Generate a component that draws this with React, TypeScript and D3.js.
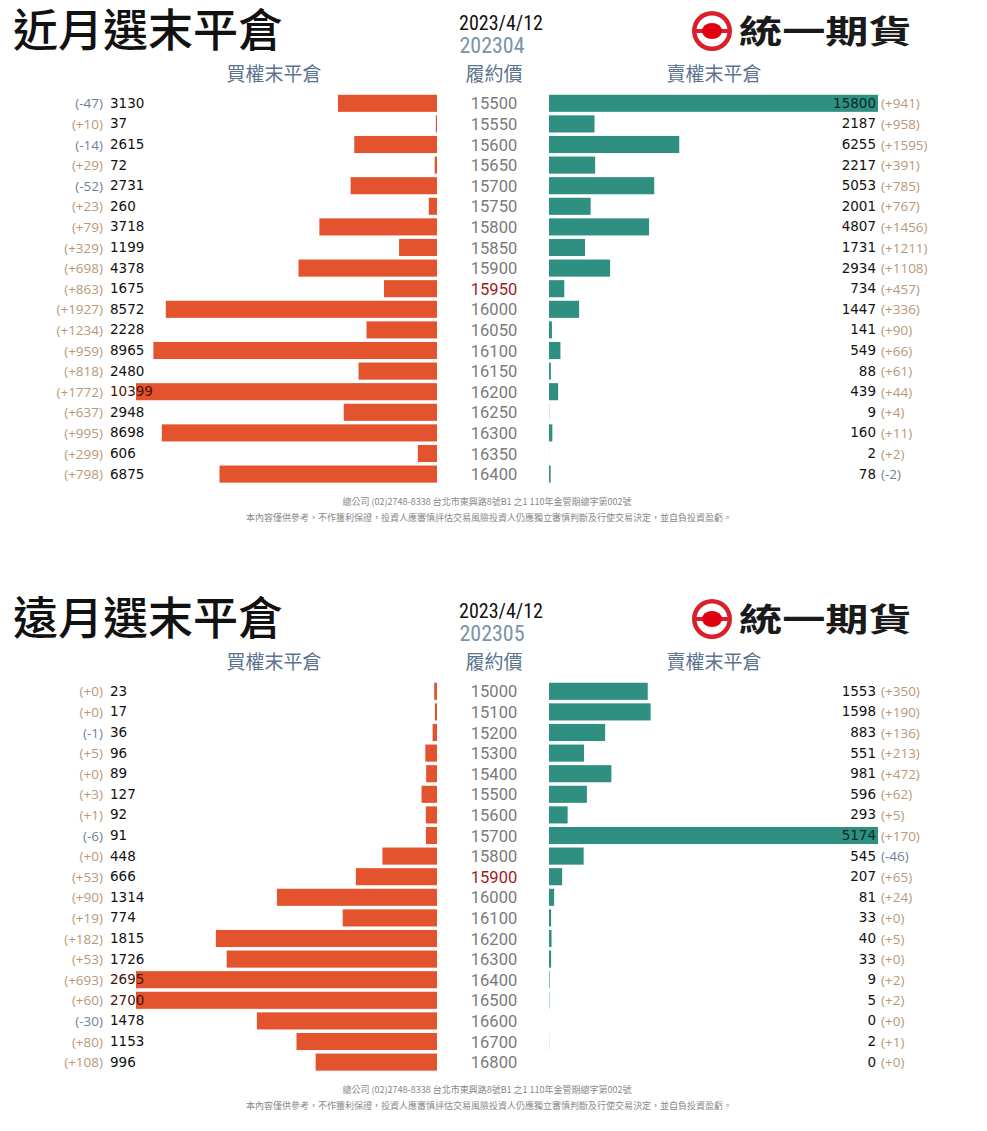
import React from "react";
import * as d3 from "d3";

const nearStrikes = [15500, 15550, 15600, 15650, 15700, 15750, 15800, 15850, 15900, 15950, 16000, 16050, 16100, 16150, 16200, 16250, 16300, 16350, 16400];
const nearCallOI = [3130, 37, 2615, 72, 2731, 260, 3718, 1199, 4378, 1675, 8572, 2228, 8965, 2480, 10399, 2948, 8698, 606, 6875];
const nearCallChg = [-47, 10, -14, 29, -52, 23, 79, 329, 698, 863, 1927, 1234, 959, 818, 1772, 637, 995, 299, 798];
const nearPutOI = [15800, 2187, 6255, 2217, 5053, 2001, 4807, 1731, 2934, 734, 1447, 141, 549, 88, 439, 9, 160, 2, 78];
const nearPutChg = [941, 958, 1595, 391, 785, 767, 1456, 1211, 1108, 457, 336, 90, 66, 61, 44, 4, 11, 2, -2];

const farStrikes = [15000, 15100, 15200, 15300, 15400, 15500, 15600, 15700, 15800, 15900, 16000, 16100, 16200, 16300, 16400, 16500, 16600, 16700, 16800];
const farCallOI = [23, 17, 36, 96, 89, 127, 92, 91, 448, 666, 1314, 774, 1815, 1726, 2695, 2700, 1478, 1153, 996];
const farCallChg = [0, 0, -1, 5, 0, 3, 1, -6, 0, 53, 90, 19, 182, 53, 693, 60, -30, 80, 108];
const farPutOI = [1553, 1598, 883, 551, 981, 596, 293, 5174, 545, 207, 81, 33, 40, 33, 9, 5, 0, 2, 0];
const farPutChg = [350, 190, 136, 213, 472, 62, 5, 170, -46, 65, 24, 0, 5, 0, 2, 2, 0, 1, 0];

const CJK = "'Noto Sans CJK TC', 'Noto Sans CJK SC', sans-serif";
const NUM = "'DejaVu Sans', Verdana, sans-serif";
const SOFT = "'Open Sans', 'Noto Sans', sans-serif";
const STRIKE = "Roboto, 'Noto Sans', sans-serif";
const NARROW = "'Liberation Sans Narrow', 'Roboto Condensed', 'Noto Sans', sans-serif";

const CALL_COLOR = "#e2532e";
const PUT_COLOR = "#2f8f80";
const POS_COLOR = "#b99878";
const NEG_COLOR = "#6f7f9c";
const HEAD_COLOR = "#5c7390";

function fmtChg(v: number) {
  return v < 0 ? `(${v})` : `(+${v})`;
}

type PanelProps = {
  y0: number;
  title: string;
  month: string;
  date: string;
  strikes: number[];
  callOI: number[];
  callChg: number[];
  putOI: number[];
  putChg: number[];
  atm: number;
  clipId: string;
};

function Logo({ x, y }: { x: number; y: number }) {
  return (
    <g transform={`translate(${x},${y})`}>
      <circle cx={22} cy={0} r={20} fill="#d7202a" />
      <circle cx={22} cy={0} r={15.5} fill="#fff" />
      <rect x={4} y={-2} width={36} height={4} fill="#d7202a" />
      <ellipse cx={22} cy={0} rx={10} ry={8} fill="#e00010" />
      <g transform="translate(49,12) scale(1.35,1)">
        <text x={0} y={0} fontFamily={CJK} fontWeight={700} fontSize={32} fill="#1a1a1a">
          統一期貨
        </text>
      </g>
    </g>
  );
}

function Panel(p: PanelProps) {
  const n = p.strikes.length;
  const y = d3
    .scaleBand<number>()
    .domain(p.strikes)
    .range([p.y0 + 93, p.y0 + 93 + n * 20.6])
    .paddingInner(0.17)
    .paddingOuter(0.085);
  const barW = 329;
  const callMax = d3.max(p.callOI) as number;
  const putMax = d3.max(p.putOI) as number;
  const xCall = d3.scaleLinear().domain([0, callMax]).range([0, barW]);
  const xPut = d3.scaleLinear().domain([0, putMax]).range([0, barW]);
  const callRight = 437;
  const putLeft = 549;
  const callClipLeft = 136;
  const mid = (s: number) => (y(s) as number) + y.bandwidth() / 2;

  return (
    <g>
      <defs>
        <clipPath id={p.clipId}>
          <rect x={callClipLeft} y={p.y0} width={callRight - callClipLeft} height={600} />
        </clipPath>
      </defs>
      <text x={13} y={p.y0 + 47} fontFamily={CJK} fontSize={45} fontWeight={500} fill="#111">
        {p.title}
      </text>
      <text x={501} y={p.y0 + 30} textAnchor="middle" fontFamily={NARROW} fontSize={20} fill="#111">
        {p.date}
      </text>
      <text x={492} y={p.y0 + 53} textAnchor="middle" fontFamily={NARROW} fontSize={22} fill="#7b93a6">
        {p.month}
      </text>
      <Logo x={690} y={p.y0 + 31} />
      <text x={274} y={p.y0 + 81} textAnchor="middle" fontFamily={CJK} fontSize={19} fill={HEAD_COLOR}>
        買權末平倉
      </text>
      <text x={494} y={p.y0 + 81} textAnchor="middle" fontFamily={CJK} fontSize={19} fill={HEAD_COLOR}>
        履約價
      </text>
      <text x={714} y={p.y0 + 81} textAnchor="middle" fontFamily={CJK} fontSize={19} fill={HEAD_COLOR}>
        賣權末平倉
      </text>

      <g clipPath={`url(#${p.clipId})`}>
        {p.strikes.map((s, i) => (
          <rect
            key={"c" + s}
            x={callRight - xCall(p.callOI[i])}
            y={y(s)}
            width={xCall(p.callOI[i])}
            height={y.bandwidth()}
            fill={CALL_COLOR}
          />
        ))}
      </g>
      {p.strikes.map((s, i) => (
        <rect
          key={"p" + s}
          x={putLeft}
          y={y(s)}
          width={xPut(p.putOI[i])}
          height={y.bandwidth()}
          fill={PUT_COLOR}
        />
      ))}

      {p.strikes.map((s, i) => (
        <g key={"l" + s}>
          <text x={103} y={mid(s) + 5} textAnchor="end" fontFamily={SOFT} fontSize={13.5} fill={p.callChg[i] < 0 ? NEG_COLOR : POS_COLOR}>
            {fmtChg(p.callChg[i])}
          </text>
          <text x={110} y={mid(s) + 4.5} fontFamily={NUM} fontSize={13.5} fill={callRight - xCall(p.callOI[i]) < 150 ? "#4a1306" : "#111"}>
            {p.callOI[i]}
          </text>
          <text x={494} y={mid(s) + 6} textAnchor="middle" fontFamily={STRIKE} fontSize={16.5} fill={s === p.atm ? "#9e1c1c" : "#7a7a7a"}>
            {s}
          </text>
          <text x={876} y={mid(s) + 4.5} textAnchor="end" fontFamily={NUM} fontSize={13.5} fill={putLeft + xPut(p.putOI[i]) > 845 ? "#0b2a25" : "#111"}>
            {p.putOI[i]}
          </text>
          <text x={881} y={mid(s) + 5} fontFamily={SOFT} fontSize={13.5} fill={p.putChg[i] < 0 ? NEG_COLOR : POS_COLOR}>
            {fmtChg(p.putChg[i])}
          </text>
        </g>
      ))}

      <text x={487} y={p.y0 + 505} textAnchor="middle" fontFamily={CJK} fontSize={9} fill="#888">
        總公司 (02)2748-8338 台北市東興路8號B1 之1 110年金管期總字第002號
      </text>
      <text x={489} y={p.y0 + 521} textAnchor="middle" fontFamily={CJK} fontSize={9} fill="#888">
        本內容僅供參考，不作獲利保證，投資人應審慎評估交易風險投資人仍應獨立審慎判斷及行使交易決定，並自負投資盈虧。
      </text>
    </g>
  );
}

export default function App() {
  return (
    <svg
      width={987}
      height={1131}
      style={{ position: "absolute", left: 0, top: 0, background: "#fff" }}
    >
      <rect x={0} y={0} width={987} height={1131} fill="#fff" />
      <Panel
        y0={0}
        title="近月選末平倉"
        month="202304"
        date="2023/4/12"
        strikes={nearStrikes}
        callOI={nearCallOI}
        callChg={nearCallChg}
        putOI={nearPutOI}
        putChg={nearPutChg}
        atm={15950}
        clipId="clipNear"
      />
      <Panel
        y0={588}
        title="遠月選末平倉"
        month="202305"
        date="2023/4/12"
        strikes={farStrikes}
        callOI={farCallOI}
        callChg={farCallChg}
        putOI={farPutOI}
        putChg={farPutChg}
        atm={15900}
        clipId="clipFar"
      />
    </svg>
  );
}
